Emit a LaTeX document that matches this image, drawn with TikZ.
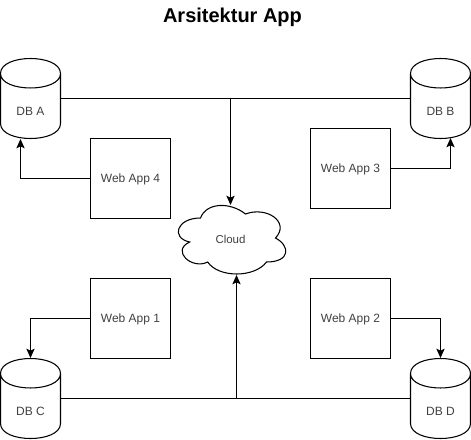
\documentclass[tikz,border=0pt]{standalone}
\usepackage{fontspec}
\setmainfont{Liberation Sans}
\usetikzlibrary{arrows.meta}
\tikzset{
  x=0.75pt,y=-0.75pt,
  base/.style={line width=0.8pt,draw=black},
  appbox/.style={base,rectangle,minimum width=60pt,minimum height=60pt,inner sep=0pt,text=black!75,text height=6.4pt,text depth=0pt,font=\fontsize{9}{11}\selectfont},
  dbshape/.style={rectangle,minimum width=45pt,minimum height=60pt,inner sep=0pt,text=black!75,font=\fontsize{9}{11}\selectfont},
  cloudshape/.style={rectangle,minimum width=90pt,minimum height=60pt,inner sep=0pt,text=black!75,text height=6pt,text depth=0pt,font=\fontsize{8.6}{10}\selectfont},
  link/.style={base},
  arrowlink/.style={base,-{Stealth[length=7pt,width=6.2pt,inset=1.5pt]}},
  titletext/.style={font=\fontsize{15}{18}\selectfont\bfseries,text=black,inner sep=0pt,text height=10pt,text depth=0pt}
}
\newcommand{\dbcyl}[4]{%
  \node[dbshape] (#1) at (#2,#3) {\raisebox{-12.6pt}[0pt][0pt]{#4}};
  \draw[base] (#2-30,#3-25) .. controls (#2-30,#3-45) and (#2+30,#3-45) .. (#2+30,#3-25)
    -- (#2+30,#3+25) .. controls (#2+30,#3+45) and (#2-30,#3+45) .. (#2-30,#3+25) -- cycle
    (#2-30,#3-25) .. controls (#2-30,#3-5.7) and (#2+30,#3-5.7) .. (#2+30,#3-25);
}
\begin{document}
\begin{tikzpicture}
\useasboundingbox (0,0) rectangle (471,439);
\node[titletext] (title) at (232.5,16) {Arsitektur App};

\dbcyl{dba}{30.5}{98.5}{DB A}
\dbcyl{dbb}{440.5}{98.5}{DB B}
\dbcyl{dbc}{30.5}{398.5}{DB C}
\dbcyl{dbd}{440.5}{398.5}{DB D}

\node[appbox] (app4) at (130.5,178.5) {Web App 4};
\node[appbox] (app3) at (350.5,168.5) {Web App 3};
\node[appbox] (app1) at (130.5,318.5) {Web App 1};
\node[appbox] (app2) at (350.5,318.5) {Web App 2};

\node[cloudshape] (cloud) at (230.5,239) {Cloud};
\draw[base] (200.5,218)
  .. controls (176.5,218) and (170.5,238) .. (189.7,242)
  .. controls (170.5,250.8) and (192.1,270) .. (207.7,262)
  .. controls (218.5,278) and (254.5,278) .. (266.5,262)
  .. controls (290.5,262) and (290.5,246) .. (275.5,238)
  .. controls (290.5,222) and (266.5,206) .. (245.5,214)
  .. controls (230.5,202) and (206.5,202) .. (200.5,218) -- cycle;

\coordinate (cloudtop) at (230.5,205);
\coordinate (cloudbot) at (236.5,275);
\coordinate (topjoin) at (230.5,98.5);
\coordinate (botjoin) at (236.5,398.5);
\coordinate (dbain) at (20.5,139);
\coordinate (dbbin) at (450.5,138);
\coordinate (dbcin) at (30.5,358);
\coordinate (dbdin) at (440.5,358);

\draw[link] (dba.east) -- (dbb.west);
\draw[link] (dbc.east) -- (dbd.west);
\draw[arrowlink] (topjoin) -- (cloudtop);
\draw[arrowlink] (botjoin) -- (cloudbot);
\draw[arrowlink] (app4.west) -| (dbain);
\draw[arrowlink] (app3.east) -| (dbbin);
\draw[arrowlink] (app1.west) -| (dbcin);
\draw[arrowlink] (app2.east) -| (dbdin);
\end{tikzpicture}
\end{document}
